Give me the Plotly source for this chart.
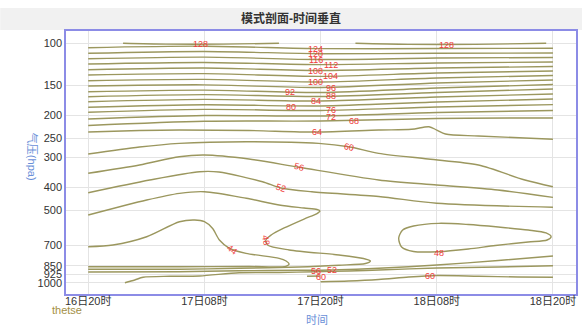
import math
import plotly.graph_objects as go

# ---- axes -------------------------------------------------------------
# time axis: forecast hours counted from 16日20时
tick_hours = [0, 12, 24, 36, 48]
tick_names = ["16日20时", "17日08时", "17日20时", "18日08时", "18日20时"]
p_ticks = [100, 150, 200, 250, 300, 400, 500, 700, 850, 925, 1000]

# ---- thetse isolines (hour, hPa) ---------------------------------------
t_upper = [0, 12, 24, 36, 48]
p124 = [104.3, 102.8, 105.3, 105.1, 104.9]
p120 = [110.1, 108.2, 110.5, 110.1, 109.8]
p116 = [116.0, 114.2, 116.9, 115.2, 114.6]
p112 = [122.0, 120.2, 122.8, 120.8, 119.7]
p108 = [128.9, 126.9, 129.9, 126.8, 125.0]
p104 = [135.7, 133.9, 137.4, 133.1, 130.6]
p100 = [143.3, 141.5, 145.1, 139.6, 136.3]
p96 = [150.8, 149.1, 153.0, 146.5, 142.3]
p92 = [159.3, 156.9, 160.5, 153.7, 148.6]
p88 = [167.1, 163.8, 166.8, 160.5, 155.2]
p84 = [175.4, 171.5, 174.2, 167.6, 162.8]
p80 = [185.0, 180.6, 182.7, 175.9, 170.9]
p76 = [194.1, 188.8, 190.8, 184.5, 180.3]
p72 = [207.1, 200.3, 201.2, 194.5, 190.8]
p68 = [220.4, 211.7, 211.1, 206.1, 205.1]

t128a = [3.6, 8, 14, 19.7]
p128a = [100, 100.8, 100.8, 100]
t128b = [27.6, 33, 40, 47.3]
p128b = [100, 101, 101, 100]

t64 = [0, 5.3, 9.4, 16.6, 23.6, 30, 33.4, 35.2, 36, 36.9, 40.3, 48]
p64 = [234.8, 231.4, 230.3, 231.4, 234.8, 230.3, 228.7, 223.1, 230.3, 239.3, 243.9, 251.8]

t60 = [0, 5.3, 9.4, 16.3, 23.8, 26.9, 30, 35.1, 40.3, 45.1, 48]
p60 = [290.0, 271.1, 261.7, 257.6, 261.7, 270.3, 288.1, 304.3, 322.4, 372.4, 397.2]

t56 = [0, 5.3, 9.4, 12.0, 16.6, 21.8, 30, 36, 42.3, 48]
p56 = [349.2, 322.4, 297.6, 292.8, 304.3, 329.6, 372.4, 390.8, 410.1, 439.9]

t52 = [0, 6.35, 11.5, 13.5, 18.0, 19.9, 23.1, 30, 36, 48]
p52 = [420.9, 372.4, 343.9, 344.9, 378.6, 402.2, 416.9, 436.5, 465.9, 484.2]

t48 = [0, 6.04, 9.43, 12.0, 16.33, 19.72, 22.29, 23.63, 23.94, 23.63, 22.29, 20.24,
       18.9, 18.35, 18.52, 20.75, 25.9, 28.43, 29.15, 28.64, 25.9, 21.78, 15.6, 9.43, 0]
p48 = [521.6, 451.4, 423.3, 416.9, 444.1, 473.6, 487.5, 494.6, 501.8, 514.1, 542.0, 590.8,
       632.0, 663.1, 695.8, 730.1, 766.1, 792.4, 811.6, 831.4, 845.1, 859.9, 870.7, 879.1, 879.1]

t44 = [0, 2.55, 6.04, 9.43, 11.0, 12.0, 12.83, 13.55, 14.58, 16.3, 19.72, 20.44, 20.75,
       20.41, 16.63, 9.43, 0]
p44 = [707.3, 695.8, 642.6, 556.3, 547.3, 556.3, 592.5, 663.1, 718.3, 753.9, 791.0, 811.6,
       835.4, 854.2, 855.8, 857.5, 857.5]

t48_loop = [32.07, 32.48, 33.6, 36.2, 39.27, 42.35, 45.44, 47.29, 47.81, 47.4, 45.44, 42.05,
            39.27, 36.2, 33.6, 32.37, 32.07]
p48_loop = [650.6, 602.5, 579.8, 565.0, 571.6, 585.4, 602.5, 619.9, 642.6, 663.1, 676.0,
            699.2, 723.1, 742.1, 740.7, 709.4, 650.6]

t52_low = [0, 9.43, 15.6, 21.78, 25.07, 30, 36, 42.35, 48]
p52_low = [902.3, 899.7, 891.1, 887.7, 885.1, 870.7, 843.5, 807.9, 773.5]

t56_low = [3.79, 4.81, 5.67, 8.41, 11.5, 15.6, 19.72, 23.5, 26.92, 30, 36, 42.35, 48]
p56_low = [1000, 974.4, 949.4, 940.3, 937.6, 908.4, 906.6, 899.7, 893.6, 885.1, 868.2, 859.9, 849.2]

t60_low_a = [22.6, 24.0]
p60_low_a = [940.3, 937.6]
t60_low_b = [24.0, 26.9, 30.0, 33.1, 36.0, 40.3, 44.4, 48]
p60_low_b = [990.4, 983.8, 969.8, 946.7, 933.1, 939.4, 946.7, 949.4]

# ---- contour labels ----------------------------------------------------
label_text = ["128", "128", "124", "120", "116", "112", "108", "104", "100", "96", "92",
              "88", "84", "80", "76", "72", "68", "64", "60", "56", "52", "48", "44",
              "56", "52", "60", "48", "60"]
label_hour = [11.56, 37.0, 23.5, 23.5, 23.5, 25.1, 23.5, 25.04, 23.5, 25.04, 20.82,
              25.04, 23.5, 20.93, 25.04, 25.04, 27.44, 23.6, 26.92, 21.78, 19.93, 18.35, 14.89,
              23.5, 25.14, 24.01, 36.18, 35.33]
label_p = [100.97, 101.6, 105.3, 110.5, 117.1, 122.9, 130.2, 137.4, 145.1, 153.7, 159.7,
           166.5, 174.7, 185.1, 189.4, 203.8, 211.7, 235.3, 270.4, 329.6, 402.2, 663.1, 730.1,
           893.6, 885.1, 944.0, 749.4, 937.6]
label_angle = [0, 0, 0, 0, 0, 0, 0, 0, 0, 0, 0,
               0, 0, 0, 0, 0, 0, 0, 12, 15, 18, 80, 35,
               0, 0, 0, 0, 0]

LINE = "rgb(155,151,94)"
LABEL = "#f03c3c"
FRAME = "#8c8ce6"
BLUE = "#6a8fd8"
FONT = "Liberation Sans, Noto Sans CJK SC, sans-serif"

isolines = [
    (t128a, p128a), (t128b, p128b),
    (t_upper, p124), (t_upper, p120), (t_upper, p116), (t_upper, p112),
    (t_upper, p108), (t_upper, p104), (t_upper, p100), (t_upper, p96),
    (t_upper, p92), (t_upper, p88), (t_upper, p84), (t_upper, p80),
    (t_upper, p76), (t_upper, p72), (t_upper, p68),
    (t64, p64), (t60, p60), (t56, p56), (t52, p52), (t48, p48), (t44, p44),
    (t48_loop, p48_loop), (t52_low, p52_low), (t56_low, p56_low),
    (t60_low_a, p60_low_a), (t60_low_b, p60_low_b),
]

fig = go.Figure()
for hrs, prs in isolines:
    fig.add_trace(go.Scatter(
        x=hrs, y=prs, mode="lines",
        line=dict(color=LINE, width=1.4, shape="spline", smoothing=0.8),
        hoverinfo="skip", showlegend=False,
    ))

annotations = []
for txt, h, p, ang in zip(label_text, label_hour, label_p, label_angle):
    annotations.append(dict(
        x=h, y=math.log10(p), xref="x", yref="y", text=txt, showarrow=False,
        xanchor="center", yanchor="middle",
        textangle=ang, font=dict(family=FONT, size=9, color=LABEL),
    ))

# plot area: 66..578 px horizontally, 31..294 px vertically
PW, PH, TOP, LEFT = 512, 263, 31, 66


def px(xp):
    return (xp - LEFT) / PW


def py(yp):
    return (TOP + PH - yp) / PH


def paper_text(text, xp, yp, size, color, angle=0):
    return dict(x=px(xp), y=py(yp), xref="paper", yref="paper", text=text,
                textangle=angle, showarrow=False, xanchor="center", yanchor="middle",
                font=dict(family=FONT, size=size, color=color))


annotations += [
    paper_text("<b>模式剖面-时间垂直</b>", 292, 18.5, 12, "#333333"),
    paper_text("气压(hpa)", 33, 157, 11, BLUE, angle=90),
    paper_text("时间", 318, 320, 11, BLUE),
    paper_text("thetse", 67, 310, 11, "#a38f45"),
]

shapes = [
    dict(type="rect", xref="paper", yref="paper", x0=px(0), x1=px(584),
         y0=py(30), y1=py(8), fillcolor="#f1f1f1", line=dict(width=0), layer="below"),
]

axis_common = dict(
    showgrid=True, gridcolor="#e4e4e4", gridwidth=1, zeroline=False,
    showline=True, linecolor=FRAME, linewidth=1.5, mirror=True, ticks="",
    tickfont=dict(family=FONT, size=11, color="#333333"),
)

fig.update_layout(
    width=584, height=325, autosize=False,
    margin=dict(l=LEFT, r=584 - LEFT - PW, t=TOP, b=325 - TOP - PH),
    paper_bgcolor="white", plot_bgcolor="white",
    xaxis=dict(range=[-2.294, 50.38], tickmode="array", tickvals=tick_hours,
               ticktext=tick_names, ticklabelstandoff=-4, **axis_common),
    yaxis=dict(type="log", range=[3.0472, 1.9486], tickmode="array", tickvals=p_ticks,
               ticktext=[str(v) for v in p_ticks], **axis_common),
    annotations=annotations, shapes=shapes,
)

fig.write_html("out.html", config={"displayModeBar": False})
